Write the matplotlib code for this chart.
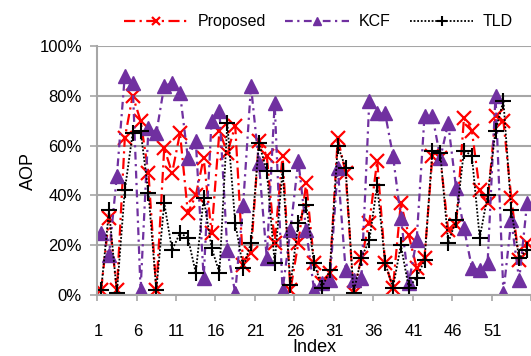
import numpy as np
import matplotlib.pyplot as plt
from matplotlib.ticker import PercentFormatter

plt.rcParams['font.family'] = ['Liberation Sans', 'DejaVu Sans']

index = np.arange(1, 56)

# AOP per sequence (%)
proposed = [2, 31, 2, 63, 80, 70, 49, 2, 59, 49,
            65, 33, 40, 55, 25, 66, 57, 68, 12, 17,
            62, 56, 21, 56, 2, 21, 45, 13, 5, 9,
            63, 49, 1, 15, 29, 54, 13, 3, 37, 24,
            11, 15, 56, 55, 26, 28, 71, 66, 42, 37,
            72, 70, 39, 14, 21]
kcf = [25, 16, 48, 88, 85, 2, 67, 65, 84, 85,
       81, 55, 62, 7, 70, 74, 18, 1, 36, 84,
       53, 15, 77, 2, 26, 54, 26, 2, 5, 6,
       51, 10, 6, 7, 78, 73, 73, 56, 31, 5,
       22, 72, 72, 55, 69, 43, 27, 11, 10, 13,
       80, 1, 30, 6, 37]
tld = [2, 34, 1, 42, 65, 66, 41, 2, 37, 18,
       25, 23, 9, 39, 19, 9, 69, 29, 11, 21,
       61, 50, 13, 50, 4, 29, 36, 13, 3, 10,
       60, 51, 1, 15, 22, 44, 13, 3, 20, 3,
       7, 14, 58, 57, 21, 30, 58, 56, 23, 40,
       66, 78, 34, 15, 18]

tick_labels = [str(k) for k in range(1, 52, 5)]

fig = plt.figure(figsize=(5.31, 3.56), dpi=100)
ax = fig.add_axes([0.183, 0.171, 0.817, 0.70])

grey = '#a6a6a6'

ax.plot(index, proposed, color='#ff0000', lw=1.6, dashes=(5, 2, 1, 2),
        marker='x', ms=10.5, mew=1.6, label='Proposed')
ax.plot(index, kcf, color='#7030a0', lw=1.6, dashes=(3.5, 2, 1, 2),
        marker='^', ms=10.5, mec='#7030a0', label='KCF')
ax.plot(index, tld, color='black', lw=1.3, dashes=(1, 1),
        marker='+', ms=12, mew=1.5, label='TLD')

ax.set_xlim(0.5, 55.5)
ax.set_ylim(0, 100)
ax.yaxis.set_major_locator(plt.MultipleLocator(20))
ax.yaxis.set_major_formatter(PercentFormatter(decimals=0))
ax.grid(axis='y', color=grey, lw=1.5)
ax.set_axisbelow(True)

# category labels every 5, small marks on the category boundaries
ax.set_xticks([k - 0.4 for k in range(1, 52, 5)])
ax.set_xticklabels(tick_labels)
ax.set_xticks(np.arange(0.5, 56, 5), minor=True)
ax.tick_params(axis='x', which='major', length=0, pad=21, labelsize=12)
ax.tick_params(axis='x', which='minor', length=4, width=1.2, color=grey)
ax.tick_params(axis='y', length=5, width=1.2, color=grey, labelsize=12, pad=6)

for side in ['top', 'right']:
    ax.spines[side].set_visible(False)
for side in ['left', 'bottom']:
    ax.spines[side].set_color(grey)
    ax.spines[side].set_linewidth(1.5)

ax.set_xlabel('Index', fontsize=13, labelpad=0)
ax.set_ylabel('AOP', fontsize=13, labelpad=2)

fig.legend(loc='upper center', bbox_to_anchor=(0.6, 1.0), ncol=3, frameon=False,
           fontsize=11.5, handlelength=4, columnspacing=1.2, handletextpad=0.6,
           numpoints=1, markerscale=0.6)

fig.savefig('out.png', dpi=100)
